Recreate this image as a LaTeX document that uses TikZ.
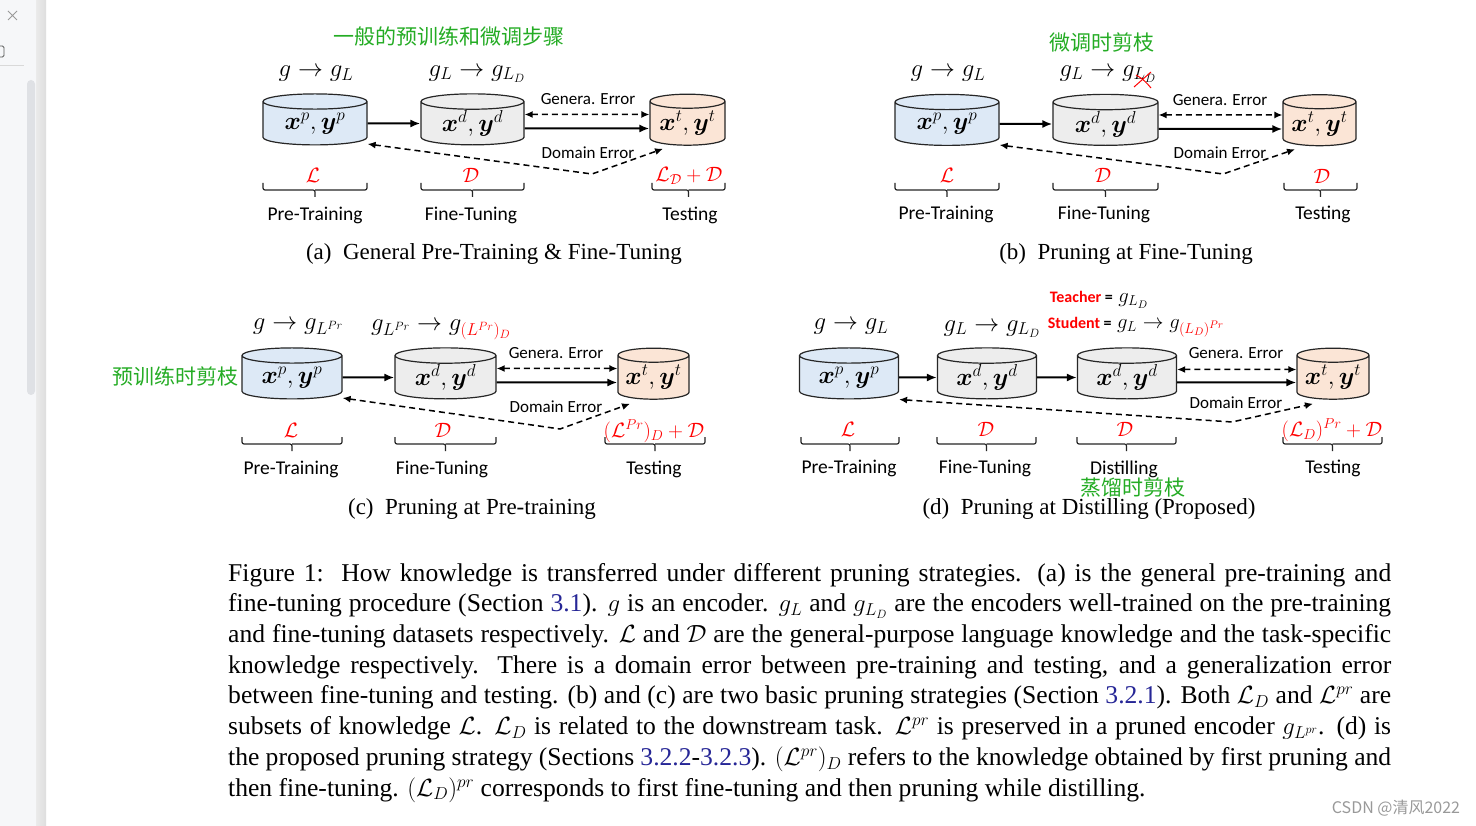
\documentclass[tikz,border=0pt]{standalone}
\usepackage{amsmath}
\usepackage{amssymb}
\usepackage{xcolor}
\usepackage{fontspec}
\setmainfont{Liberation Serif}
\newfontfamily\calibri{Carlito}
\newfontfamily\cjk{Noto Sans CJK SC}
\usepackage{tikz}
\usetikzlibrary{shapes.geometric, arrows.meta}
\definecolor{dbblue}{RGB}{221, 233, 246}
\definecolor{dbgray}{RGB}{237, 237, 237}
\definecolor{dbpeach}{RGB}{251, 229, 214}
\definecolor{kred}{RGB}{255, 0, 0}
\definecolor{cngreen}{RGB}{36, 172, 36}
\definecolor{refblue}{RGB}{38, 38, 150}
\definecolor{sidebg}{RGB}{246, 247, 249}
\definecolor{scrollc}{RGB}{223, 225, 229}
\newcommand{\pxfont}[1]{\fontsize{#1}{#1}\selectfont}
\newcommand{\capline}[1]{\hbox to\linewidth{#1}}
% bracket under a stage: left x, right x, top y
\newcommand{\brk}[3]{\draw[brc] (#1,#3) |- ({(#1+#2)/2},#3+7) -- ({(#1+#2)/2},#3+14) ({(#1+#2)/2},#3+7) -| (#2,#3);}
\tikzset{
  db/.style={cylinder, shape border rotate=90, aspect=0.25, draw=black!85, line width=1.2pt,
    cylinder uses custom fill, cylinder body fill=#1, cylinder end fill=#1,
    minimum height=51pt, inner sep=0pt, font=\pxfont{24}},
  flow/.style={line width=2pt, -{Latex[length=10pt,width=8pt]}},
  err/.style={line width=1.5pt, dash pattern=on 6pt off 4pt, {Latex[length=8pt,width=7pt]}-{Latex[length=8pt,width=7pt]}},
  tag/.style={font=\calibri\pxfont{17}},
  stage/.style={font=\calibri\pxfont{19.5}},
  knw/.style={text=kred, font=\pxfont{22}},
  enc/.style={font=\pxfont{24}},
  brc/.style={line width=1.2pt, black!85, rounded corners=2pt},
  cn/.style={text=cngreen, font=\cjk\pxfont{21}},
  subcap/.style={font=\pxfont{23}},
}

\begin{document}
\begin{tikzpicture}[x=1pt, y=-1pt]
\useasboundingbox (0,0) rectangle (1476,826);
\fill[white] (0,0) rectangle (1476,826);
% viewer side bar
\fill[sidebg] (0,0) rectangle (36,826);
\shade[left color=black!8, right color=black!13] (36,0) rectangle (46,826);
\fill[scrollc, rounded corners=4pt] (27,80) rectangle (35,395);
\draw[black!40, line width=0.8pt] (8,11) -- (17,20) (8,20) -- (17,11);
\draw[black!65, line width=0.8pt, rounded corners=1.5pt] (-4,46) rectangle (4,57);
\draw[black!15, line width=0.6pt] (0,65) -- (24,65);

% (a)
\node[cn] (ta) at (449,37) {一般的预训练和微调步骤};
\node[db=dbblue, minimum width=104pt] (a1) at (315,123.5) {$\boldsymbol{x}^p, \boldsymbol{y}^p$};
\node[db=dbgray, minimum width=103pt] (a2) at (472.5,123.5) {$\boldsymbol{x}^d, \boldsymbol{y}^d$};
\node[db=dbpeach, minimum width=75pt] (a3) at (687.5,123.5) {$\boldsymbol{x}^t, \boldsymbol{y}^t$};
\node[enc] (ea1) at (316,74) {$g \rightarrow g_L$};
\node[enc] (ea2) at (477,74) {$g_L \rightarrow g_{L_D}$};
\draw[flow] (a1) -- (a2);
\draw[flow] ([yshift=-5pt]a2.east) -- ([yshift=-5pt]a3.west);
\draw[err] ([yshift=9pt]a2.east) -- ([yshift=9pt]a3.west);
\coordinate (ak) at (592,174);
\draw[err] ([yshift=-20.5pt]a1.east) -- (ak) -- ([xshift=-24.5pt,yshift=-3pt]a3.south);
\node[tag] (ga) at (588,99) {Genera. Error};
\node[tag] (da) at (588,153) {Domain Error};
\node[knw] (ka1) at (313,175) {$\mathcal{L}$};
\node[knw] (ka2) at (471,175) {$\mathcal{D}$};
\node[knw] (ka3) at (689,176) {$\mathcal{L}_{\mathcal{D}} + \mathcal{D}$};
\brk{263}{367}{183}
\brk{421}{524}{183}
\brk{652}{725}{183}
\node[stage] (sa1) at (315,215) {Pre-Training};
\node[stage] (sa2) at (471,215) {Fine-Tuning};
\node[stage] (sa3) at (690,215) {Testing};
\node[subcap] (capa) at (494,254) {(a)\enspace General Pre-Training \& Fine-Tuning};

% (b)
\node[cn] (tb) at (1102,43) {微调时剪枝};
\node[db=dbblue, minimum width=104pt] (b1) at (947,124) {$\boldsymbol{x}^p, \boldsymbol{y}^p$};
\node[db=dbgray, minimum width=105pt] (b2) at (1105.5,124) {$\boldsymbol{x}^d, \boldsymbol{y}^d$};
\node[db=dbpeach, minimum width=73pt] (b3) at (1319.5,124) {$\boldsymbol{x}^t, \boldsymbol{y}^t$};
\node[enc] (eb1) at (948,74) {$g \rightarrow g_L$};
\node[enc] (eb2) at (1108,74) {$g_L \rightarrow g_{L_D}$};
\draw[kred, line width=1pt] (1134,87) -- (1151,72);
\draw[kred, line width=1pt] (1136,75) .. controls (1142,78) and (1147,83) .. (1151,88);
\draw[flow] (b1) -- (b2);
\draw[flow] ([yshift=-5pt]b2.east) -- ([yshift=-5pt]b3.west);
\draw[err] ([yshift=9pt]b2.east) -- ([yshift=9pt]b3.west);
\coordinate (bk) at (1223,174);
\draw[err] ([yshift=-21pt]b1.east) -- (bk) -- ([xshift=-24.5pt,yshift=-3pt]b3.south);
\node[tag] (gb) at (1220,100) {Genera. Error};
\node[tag] (dbe) at (1220,153) {Domain Error};
\node[knw] (kb1) at (947,175) {$\mathcal{L}$};
\node[knw] (kb2) at (1103,175) {$\mathcal{D}$};
\node[knw] (kb3) at (1322,176) {$\mathcal{D}$};
\brk{895}{999}{183}
\brk{1053}{1158}{183}
\brk{1284}{1357}{183}
\node[stage] (sb1) at (946,214) {Pre-Training};
\node[stage] (sb2) at (1104,214) {Fine-Tuning};
\node[stage] (sb3) at (1323,214) {Testing};
\node[subcap] (capb) at (1126,254) {(b)\enspace Pruning at Fine-Tuning};

% (c)
\node[cn] (tc) at (175,376) {预训练时剪枝};
\node[db=dbblue, minimum width=100pt] (c1) at (292,377.5) {$\boldsymbol{x}^p, \boldsymbol{y}^p$};
\node[db=dbgray, minimum width=101pt] (c2) at (445.5,377.5) {$\boldsymbol{x}^d, \boldsymbol{y}^d$};
\node[db=dbpeach, minimum width=71pt] (c3) at (653.5,377.5) {$\boldsymbol{x}^t, \boldsymbol{y}^t$};
\node[enc] (ec1) at (298,327) {$g \rightarrow g_{L^{Pr}}$};
\node[enc] (ec2) at (441,330) {$g_{L^{Pr}} \rightarrow g_{\textcolor{kred}{(L^{Pr})_D}}$};
\draw[flow] (c1) -- (c2);
\draw[flow] ([yshift=-5pt]c2.east) -- ([yshift=-5pt]c3.west);
\draw[err] ([yshift=9pt]c2.east) -- ([yshift=9pt]c3.west);
\coordinate (ck) at (560,429);
\draw[err] ([yshift=-20.5pt]c1.east) -- (ck) -- ([xshift=-23.5pt,yshift=-4pt]c3.south);
\node[tag] (gc) at (556,353) {Genera. Error};
\node[tag] (dc) at (556,407) {Domain Error};
\node[knw] (kc1) at (291,430) {$\mathcal{L}$};
\node[knw] (kc2) at (443,430) {$\mathcal{D}$};
\node[knw] (kc3) at (654,431) {$(\mathcal{L}^{Pr})_D + \mathcal{D}$};
\brk{242}{342}{437}
\brk{395}{496}{437}
\brk{605}{705}{437}
\node[stage] (sc1) at (291,469) {Pre-Training};
\node[stage] (sc2) at (442,469) {Fine-Tuning};
\node[stage] (sc3) at (654,469) {Testing};
\node[subcap] (capc) at (472,509) {(c)\enspace Pruning at Pre-training};

% (d)
\node[db=dbblue, minimum width=99pt] (d1) at (849,377.5) {$\boldsymbol{x}^p, \boldsymbol{y}^p$};
\node[db=dbgray, minimum width=99pt] (d2) at (987,377.5) {$\boldsymbol{x}^d, \boldsymbol{y}^d$};
\node[db=dbgray, minimum width=99pt] (d3) at (1127,377.5) {$\boldsymbol{x}^d, \boldsymbol{y}^d$};
\node[db=dbpeach, minimum width=72pt] (d4) at (1333,377.5) {$\boldsymbol{x}^t, \boldsymbol{y}^t$};
\node[enc] (ed1) at (851,327) {$g \rightarrow g_L$};
\node[enc] (ed2) at (992,329) {$g_L \rightarrow g_{L_D}$};
\node[font=\pxfont{22}, inner sep=0pt] (teach) at (1099,300) {{\calibri\bfseries\pxfont{16}\textcolor{kred}{Teacher} =} $g_{L_D}$};
\node[font=\pxfont{22}, inner sep=0pt] (stud) at (1136,327) {{\calibri\bfseries\pxfont{16}\textcolor{kred}{Student} =} $g_L \rightarrow g_{\textcolor{kred}{(L_D)^{Pr}}}$};
\draw[flow] (d1) -- (d2);
\draw[flow] (d2) -- (d3);
\draw[flow] ([yshift=-5pt]d3.east) -- ([yshift=-5pt]d4.west);
\draw[err] ([yshift=8pt]d3.east) -- ([yshift=8pt]d4.west);
\coordinate (dk) at (1232,422);
\draw[err] ([yshift=-22pt]d1.east) -- (dk) -- ([xshift=-20pt,yshift=-4pt]d4.south);
\node[tag] (gd) at (1236,353) {Genera. Error};
\node[tag] (dd) at (1236,403) {Domain Error};
\node[knw] (kd1) at (848,429) {$\mathcal{L}$};
\node[knw] (kd2) at (986,429) {$\mathcal{D}$};
\node[knw] (kd3) at (1125,429) {$\mathcal{D}$};
\node[knw] (kd4) at (1332,430) {$(\mathcal{L}_D)^{Pr} + \mathcal{D}$};
\brk{801}{899}{437}
\brk{937}{1036}{437}
\brk{1077}{1176}{437}
\brk{1283}{1382}{437}
\node[stage] (sd1) at (849,468) {Pre-Training};
\node[stage] (sd2) at (985,468) {Fine-Tuning};
\node[stage] (sd3) at (1124,469) {Distilling};
\node[stage] (sd4) at (1333,468) {Testing};
\node[cn] (td) at (1133,488) {蒸馏时剪枝};
\node[subcap] (capd) at (1089,509) {(d)\enspace Pruning at Distilling (Proposed)};

% figure caption
\node[anchor=base west, inner sep=0pt] (fig) at (228,581) {\begin{minipage}[t]{1163pt}\fontsize{25.6}{30.72}\selectfont
\capline{Figure 1:\ \ How knowledge is transferred under different pruning strategies. (a) is the general pre-training and}
\capline{fine-tuning procedure (Section \textcolor{refblue}{3.1}). $g$ is an encoder. $g_L$ and $g_{L_D}$ are the encoders well-trained on the pre-training}
\capline{and fine-tuning datasets respectively. $\mathcal{L}$ and $\mathcal{D}$ are the general-purpose language knowledge and the task-specific}
\capline{knowledge respectively. There is a domain error between pre-training and testing, and a generalization error}
\capline{between fine-tuning and testing. (b) and (c) are two basic pruning strategies (Section \textcolor{refblue}{3.2.1}). Both $\mathcal{L}_D$ and $\mathcal{L}^{pr}$ are}
\capline{subsets of knowledge $\mathcal{L}$. $\mathcal{L}_D$ is related to the downstream task. $\mathcal{L}^{pr}$ is preserved in a pruned encoder $g_{L^{pr}}$. (d) is}
\capline{the proposed pruning strategy (Sections \textcolor{refblue}{3.2.2}-\textcolor{refblue}{3.2.3}). $(\mathcal{L}^{pr})_D$ refers to the knowledge obtained by first pruning and}
\hbox{then fine-tuning. $(\mathcal{L}_D)^{pr}$ corresponds to first fine-tuning and then pruning while distilling.}
\end{minipage}};
\node[text=black!40, font=\cjk\pxfont{16}] (wm) at (1396,808) {CSDN @清风2022};
\end{tikzpicture}
\end{document}
